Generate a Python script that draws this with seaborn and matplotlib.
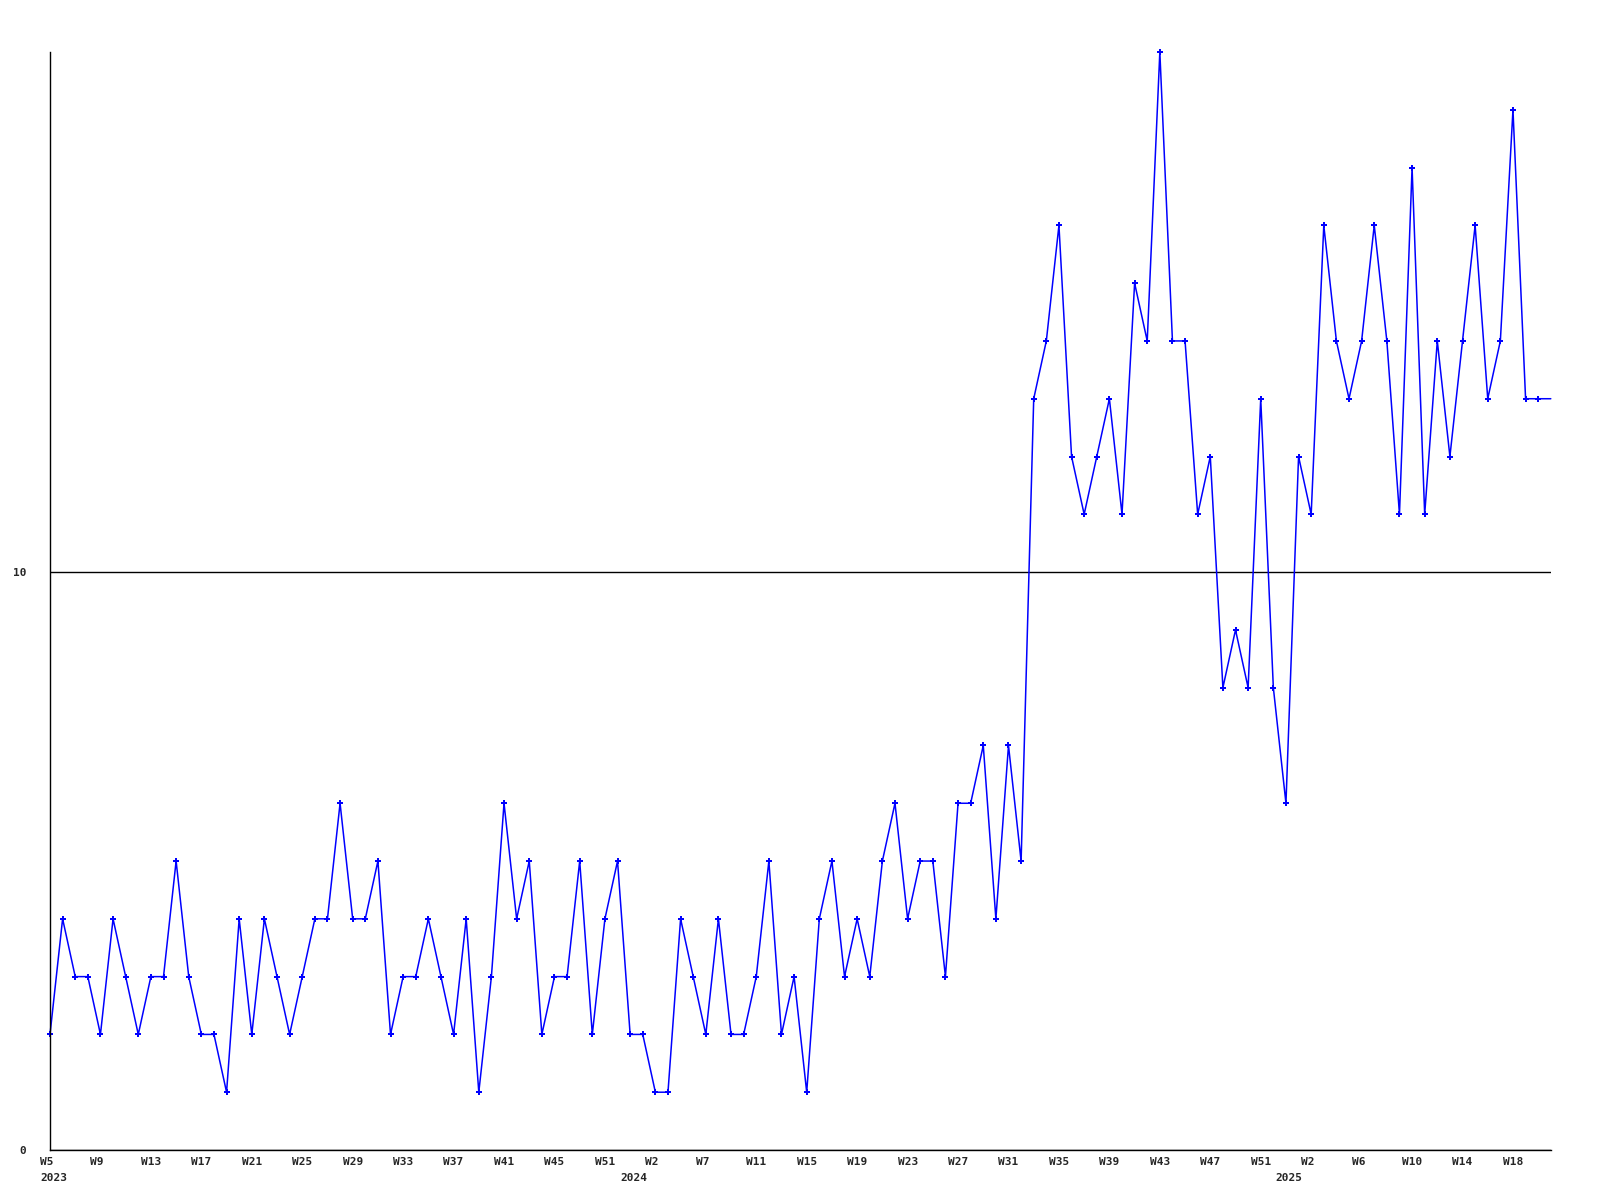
import matplotlib
matplotlib.use('Agg')
import matplotlib.pyplot as plt
import matplotlib.transforms as mtransforms
import seaborn as sns
import numpy as np

# weekly counts, 2023 W5 .. 2025 W20 (last value continues to the axis edge)
values = [2, 4, 3, 3, 2, 4, 3, 2, 3, 3,
          5, 3, 2, 2, 1, 4, 2, 4, 3, 2,
          3, 4, 4, 6, 4, 4, 5, 2, 3, 3,
          4, 3, 2, 4, 1, 3, 6, 4, 5, 2,
          3, 3, 5, 2, 4, 5, 2, 2, 1, 1,
          4, 3, 2, 4, 2, 2, 3, 5, 2, 3,
          1, 4, 5, 3, 4, 3, 5, 6, 4, 5,
          5, 3, 6, 6, 7, 4, 7, 5, 13, 14,
          16, 12, 11, 12, 13, 11, 15, 14, 19, 14,
          14, 11, 12, 8, 9, 8, 13, 8, 6, 12,
          11, 16, 14, 13, 14, 16, 14, 11, 17, 11,
          14, 12, 14, 16, 13, 14, 18, 13, 13, 13]
week_labels = ['W5', 'W9', 'W13', 'W17', 'W21', 'W25', 'W29', 'W33', 'W37', 'W41',
               'W45', 'W51', 'W2', 'W7', 'W11', 'W15', 'W19', 'W23', 'W27', 'W31',
               'W35', 'W39', 'W43', 'W47', 'W51', 'W2', 'W6', 'W10', 'W14', 'W18']
year_labels = ['2023', '2024', '2025']
year_index = [0, 46, 98]

sns.set_style('white')
plt.rcParams['font.family'] = ['DejaVu Sans Mono']

fig = plt.figure(figsize=(16, 12), dpi=100)
ax = fig.add_axes([0.03125, 0.04167, 0.938, 0.915])

idx = np.arange(len(values))
sns.lineplot(x=idx, y=values, ax=ax, color='#0000ff', linewidth=1.1,
             marker='P', markersize=5, markeredgewidth=0,
             markevery=list(range(len(values) - 1)), clip_on=False)

ax.set_yticks([0, 10])
ax.set_yticklabels(['0', '10'], fontsize=8, fontweight='bold')
ax.grid(axis='y', color='black', linewidth=1)
ax.grid(axis='x', visible=False)
ax.set_xticks([])
ax.tick_params(axis='both', length=0)
ax.tick_params(axis='y', pad=17)

ax.set_xlim(0, len(values) - 1)
ax.set_ylim(0, 19)

# week labels every 4th point, left aligned a bit before the point; years below
trans = mtransforms.blended_transform_factory(ax.transData, ax.transAxes)
for k, lab in enumerate(week_labels):
    ax.text(4 * k - 0.8, -0.011, lab, transform=trans, ha='left', va='center',
            fontsize=8, fontweight='bold', clip_on=False)
for lab, i in zip(year_labels, year_index):
    ax.text(i - 0.8, -0.0255, lab, transform=trans, ha='left', va='center',
            fontsize=8, fontweight='bold', clip_on=False)

for s in ['top', 'right']:
    ax.spines[s].set_visible(False)
for s in ['left', 'bottom']:
    ax.spines[s].set_color('black')
    ax.spines[s].set_linewidth(1)

ax.set_xlabel('')
ax.set_ylabel('')

fig.savefig('out.png', dpi=100, facecolor='white')
